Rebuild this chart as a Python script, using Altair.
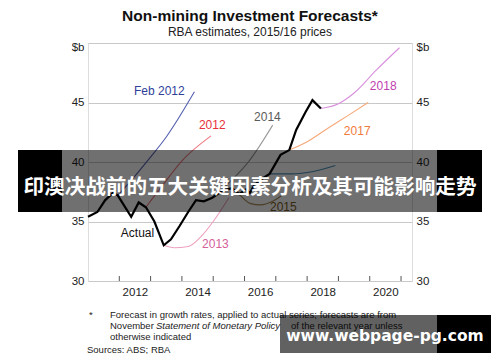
import altair as alt
import pandas as pd

# ---------------- data ----------------
actual_year = [2011.0, 2011.3, 2011.55, 2011.8, 2011.95, 2012.38, 2012.62, 2012.85, 2013.12,
               2013.42, 2013.65, 2013.92, 2014.2, 2014.45, 2014.7, 2014.97, 2015.3, 2015.6,
               2015.83, 2016.05, 2016.17, 2016.3, 2016.5, 2016.8, 2017.15, 2017.43, 2017.65,
               2017.95, 2018.17, 2018.44]
actual_val = [35.4, 35.8, 36.8, 37.4, 37.2, 35.4, 36.6, 36.2, 35.0,
              33.0, 33.5, 34.6, 35.8, 36.8, 36.7, 37.0, 37.6, 37.8,
              37.3, 37.7, 37.4, 38.0, 38.5, 39.0, 40.6, 41.0, 42.7,
              44.2, 45.2, 44.5]

feb2012_year = [2011.95, 2012.4, 2012.9, 2013.5, 2014.4]
feb2012_val = [37.2, 38.5, 40.1, 42.1, 45.9]
f2012_year = [2012.85, 2013.4, 2014.0, 2014.93]
f2012_val = [36.2, 38.1, 40.1, 42.2]
f2013_year = [2013.42, 2013.75, 2014.2, 2014.6, 2015.0, 2015.5]
f2013_val = [33.0, 32.8, 32.9, 33.7, 35.0, 37.0]
f2014_year = [2014.97, 2015.6, 2016.15, 2016.9]
f2014_val = [37.0, 38.5, 40.1, 43.1]
f2015_year = [2015.83, 2016.2, 2016.5, 2016.9, 2017.2]
f2015_val = [37.3, 36.5, 36.4, 36.7, 37.2]
f2016_year = [2016.8, 2017.5, 2018.2, 2018.9]
f2016_val = [39.0, 39.0, 39.2, 39.7]
f2017_year = [2017.43, 2018.0, 2018.7, 2019.3, 2019.95]
f2017_val = [41.0, 41.7, 42.9, 43.9, 45.0]
f2018_year = [2018.44, 2019.0, 2019.5, 2020.2, 2020.95]
f2018_val = [44.5, 44.9, 45.8, 47.7, 49.6]

series_names = ["Feb 2012", "2012", "2013", "2014", "2015", "2016", "2017", "2018"]
line_colors = ["#5560b0", "#f07880", "#eea0c0", "#9a9a9a", "#a88a58", "#4a90b8", "#f6a878", "#d890dc"]

label_text = ["Feb 2012", "2012", "2014", "Actual", "2013", "2015", "2017", "2018"]
label_year = [2013.28, 2014.97, 2016.73, 2012.58, 2015.07, 2017.24, 2019.6, 2020.43]
label_val = [46.0, 43.1, 43.75, 34.0, 33.1, 36.2, 42.6, 46.4]
label_colors = ["#2f3f9a", "#e8303c", "#5a5a5a", "#111111", "#d6609a", "#7a5c24", "#f07a3a", "#c040b0"]

tick_years = list(range(2012, 2022))
y_ticks = [30, 35, 40, 45, 50]

# ---------------- tables ----------------
fc = []
for name, yrs, vals in [("Feb 2012", feb2012_year, feb2012_val), ("2012", f2012_year, f2012_val),
                        ("2013", f2013_year, f2013_val), ("2014", f2014_year, f2014_val),
                        ("2015", f2015_year, f2015_val), ("2016", f2016_year, f2016_val),
                        ("2017", f2017_year, f2017_val), ("2018", f2018_year, f2018_val)]:
    for a, b in zip(yrs, vals):
        fc.append({"series": name, "year": a, "value": b})
fc_df = pd.DataFrame(fc)
act_df = pd.DataFrame({"year": actual_year, "value": actual_val})
lab_df = pd.DataFrame({"text": label_text, "year": label_year, "value": label_val, "col": label_text})
tick_df = pd.DataFrame({"year": tick_years, "y0": [30] * len(tick_years), "y1": [30.42] * len(tick_years)})
one = pd.DataFrame({"a": [0]})

FONT = "Liberation Sans"
xs = alt.Scale(domain=[2011.0, 2021.35], nice=False, zero=False)
ys = alt.Scale(domain=[30, 50], nice=False, zero=False)

x_axis = alt.Axis(values=tick_years, format="d",
                  labelExpr="datum.value % 2 == 0 ? datum.label : ''",
                  labelOffset=15.6, ticks=False, domain=False, grid=False,
                  labelFontSize=11.5, labelFont=FONT, labelColor="#222222",
                  labelPadding=5, labelOverlap=False, labelFlush=False, title=None)

def y_axis(orient, grid):
    return alt.Axis(values=y_ticks, orient=orient,
                    labelExpr="datum.value == 50 ? '$b' : datum.label",
                    labelOffset={"condition": {"test": "datum.value == 50", "value": 4}, "value": 0},
                    ticks=False, domain=False, grid=grid, gridColor="#c8c8c8", gridWidth=1,
                    labelFontSize=11.5, labelFont=FONT, labelColor="#222222",
                    labelPadding=4, labelFlush=False, labelOverlap=False, title=None)

X = alt.X("year:Q", scale=xs, axis=x_axis)

forecasts = alt.Chart(fc_df).mark_line(strokeWidth=1.1, interpolate="monotone").encode(
    x=X,
    y=alt.Y("value:Q", scale=ys, axis=y_axis("left", True)),
    color=alt.Color("series:N", scale=alt.Scale(domain=series_names, range=line_colors), legend=None),
    detail="series:N",
)

actual = alt.Chart(act_df).mark_line(strokeWidth=2.2, color="#000000").encode(
    x=X, y=alt.Y("value:Q", scale=ys, axis=y_axis("right", False)),
)

ticks = alt.Chart(tick_df).mark_rule(color="#555555", strokeWidth=1).encode(
    x=X, y=alt.Y("y0:Q", scale=ys, axis=None), y2="y1:Q",
)

labels = alt.Chart(lab_df).mark_text(font=FONT, fontSize=12).encode(
    x=X, y=alt.Y("value:Q", scale=ys, axis=None), text="text:N",
    color=alt.Color("col:N", scale=alt.Scale(domain=label_text, range=label_colors), legend=None),
)

def txt(s, x, y, size=9, weight="normal", style="normal", align="left", color="#222222", font=FONT):
    return alt.Chart(one).mark_text(text=s, font=font, fontSize=size, fontWeight=weight,
                                    fontStyle=style, align=align, baseline="alphabetic",
                                    color=color).encode(x=alt.value(x), y=alt.value(y))

def rect(x1, x2, y1, y2, color, opacity=1.0):
    return alt.Chart(one).mark_rect(color=color, opacity=opacity).encode(
        x=alt.value(x1), x2=alt.value(x2), y=alt.value(y1), y2=alt.value(y2))

title = txt("Non-mining Investment Forecasts*", 162, -22.5, size=15.5, weight="bold", align="center", color="#111111")
subtitle = txt("RBA estimates, 2015/16 prices", 162, -7, size=12, align="center", color="#222222")

foot = [
    txt("*", 1, 274.5, size=9.5),
    txt("Forecast in growth rates, applied to actual series; forecasts are from", 22, 274.5, size=9.5),
    txt("November ", 22, 285.5, size=9.5),
    txt("Statement of Monetary Policy", 68, 285.5, size=9.5, style="italic"),
    txt(" of the relevant year unless", 203, 285.5, size=9.5),
    txt("otherwise indicated", 22, 296.5, size=9.5),
    txt("Sources:   ABS; RBA", -1, 309.5, size=9.5),
]

banner = [
    rect(-70, -26, 107, 169, "#000000", 1.0),
    rect(-26, 349, 107, 169, "#000000", 0.56),
    rect(349, 394, 107, 169, "#000000", 1.0),
    txt("印澳决战前的五大关键因素分析及其可能影响走势", 162, 150.5, size=20.6, weight="bold",
        align="center", color="#ffffff", font="Noto Sans CJK SC"),
]

watermark = [
    rect(192, 349, 272, 310, "#000000", 0.62),
    rect(349, 403, 272, 310, "#000000", 1.0),
    txt("www.webpage-pg.com", 297, 298, size=15.5, weight="bold", align="center",
        color="#ffffff", font="DejaVu Sans"),
]

chart = alt.layer(
    forecasts, actual, ticks, labels, title, subtitle, *foot, *banner, *watermark
).resolve_axis(y="independent").resolve_scale(color="independent").properties(
    width=324, height=238,
    padding={"left": 80, "top": 35, "right": 80, "bottom": 73},
    autosize=alt.AutoSizeParams(type="none"),
).configure_view(stroke="#808080", strokeWidth=1.3).configure(background="#ffffff")

chart.save("out.html", embed_options={"renderer": "svg", "actions": False})
